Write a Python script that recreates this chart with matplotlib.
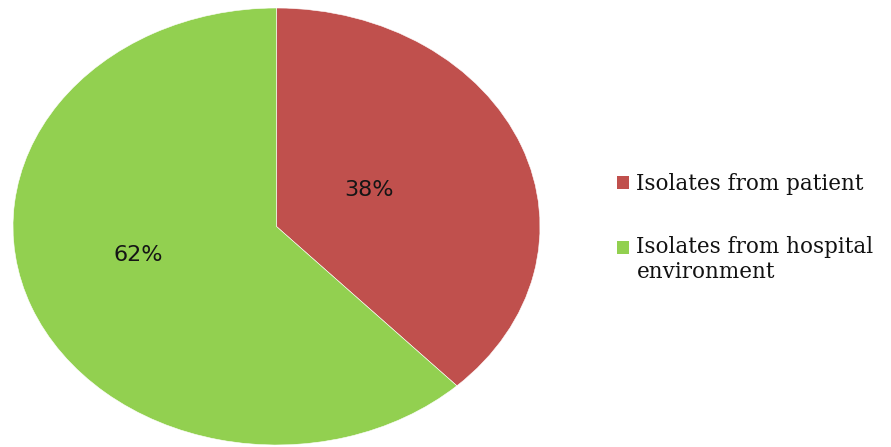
import matplotlib
matplotlib.use("Agg")
import matplotlib.pyplot as plt
from matplotlib.patches import Rectangle
from matplotlib.legend_handler import HandlerPatch

# ---------------------------------------------------------------------------
# Data
# ---------------------------------------------------------------------------
labels = ["Isolates from patient", "Isolates from hospital\nenvironment"]
shares = [38, 62]
colors = ["#C0504D", "#92D050"]

# layout: where the % labels sit inside the (stretched) pie
PCT_XY = [(0.35, 0.165), (-0.525, -0.13)]

fig = plt.figure(figsize=(8.91, 4.47), dpi=100)
ax = fig.add_axes([13 / 891, 2 / 447, 527 / 891, 437 / 447])

wedges, texts, autotexts = ax.pie(
    shares,
    colors=colors,
    startangle=90,
    counterclock=False,
    autopct="%d%%",
    wedgeprops=dict(edgecolor="white", linewidth=0.4),
    textprops=dict(fontsize=16, color="#151515", family="DejaVu Sans"),
)
ax.set_aspect("auto")
ax.set_xlim(-1, 1)
ax.set_ylim(-1, 1)

for t, xy in zip(autotexts, PCT_XY):
    t.set_position(xy)


# legend square sits on the first line of a wrapped label
class FirstLineHandler(HandlerPatch):
    def create_artists(self, legend, orig_handle, xdescent, ydescent,
                       width, height, fontsize, trans):
        n_lines = orig_handle.get_label().count("\n") + 1
        shift = (n_lines - 1) * 0.5 * 1.2 * fontsize
        p = Rectangle((-xdescent, -ydescent + shift), width, height,
                      facecolor=orig_handle.get_facecolor(), edgecolor="none",
                      transform=trans)
        return [p]


for w, lab in zip(wedges, labels):
    w.set_label(lab)

fig.legend(
    wedges, labels,
    loc="upper left",
    bbox_to_anchor=(617 / 891, 1 - 173 / 447),
    frameon=False,
    prop=dict(family="DejaVu Serif", size=15.5),
    handlelength=0.55,
    handleheight=0.55,
    handletextpad=0.35,
    labelspacing=1.9,
    borderpad=0,
    borderaxespad=0,
    handler_map={w: FirstLineHandler() for w in wedges},
)
for t in fig.legends[0].get_texts():
    t.set_color("#111111")

fig.savefig("out.png", dpi=100)
plt.close(fig)
